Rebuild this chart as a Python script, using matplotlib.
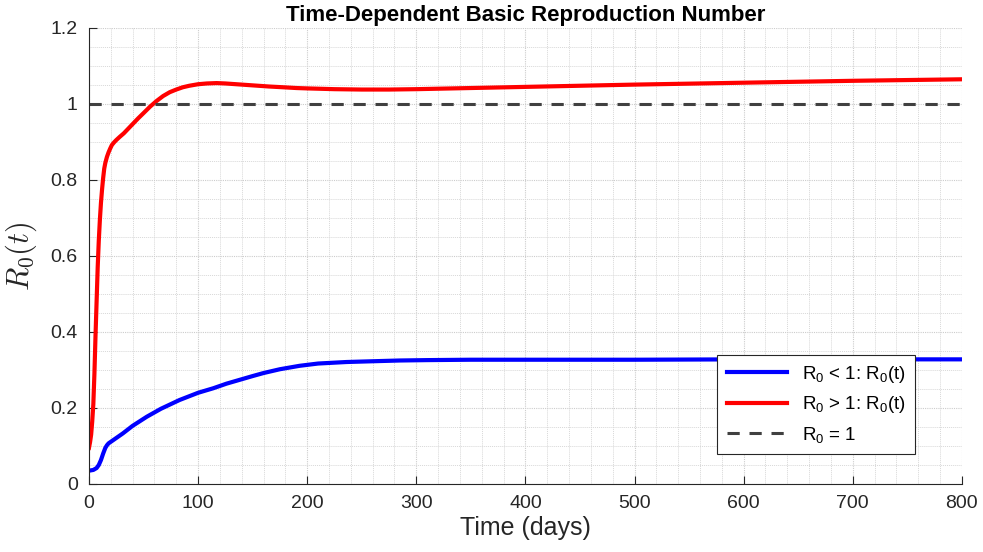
import numpy as np
import matplotlib
matplotlib.use('Agg')
import matplotlib.pyplot as plt
from matplotlib.ticker import MultipleLocator

plt.rcParams['font.family'] = ['Liberation Sans', 'DejaVu Sans']

# values
t_red = [0, 1, 2, 3, 4, 5, 6, 7, 8, 9, 10, 11, 12, 13, 14, 15, 16.5, 18, 19.5, 21, 23,
         25, 28, 32, 36, 40, 45, 50, 56, 62, 68, 74, 80, 86, 92, 100, 108, 117, 125, 135,
         150, 165, 178, 190, 200, 225, 250, 275, 300, 350, 400, 450, 500, 600, 700, 800]
r_red = [0.095, 0.11, 0.13, 0.165, 0.21, 0.29, 0.39, 0.48, 0.57, 0.64, 0.695, 0.74,
         0.775, 0.805, 0.83, 0.845, 0.861, 0.873, 0.883, 0.892, 0.899, 0.905, 0.913,
         0.923, 0.935, 0.947, 0.962, 0.976, 0.993, 1.008, 1.021, 1.031, 1.038, 1.044,
         1.048, 1.052, 1.054, 1.055, 1.054, 1.052, 1.049, 1.046, 1.044, 1.042, 1.041,
         1.039, 1.038, 1.038, 1.039, 1.042, 1.045, 1.048, 1.051, 1.056, 1.061, 1.065]

t_blue = [0, 4, 7, 9, 11, 13, 15, 16.5, 18, 20, 22, 26, 31, 40, 53, 66, 83, 100, 114,
          126, 138, 150, 160, 175, 193, 210, 236, 260, 285, 310, 350, 400, 500, 600, 700, 800]
r_blue = [0.035, 0.037, 0.042, 0.05, 0.063, 0.08, 0.095, 0.102, 0.107, 0.111, 0.115,
          0.123, 0.133, 0.153, 0.177, 0.198, 0.221, 0.24, 0.252, 0.264, 0.274, 0.284,
          0.292, 0.302, 0.311, 0.317, 0.321, 0.323, 0.325, 0.326, 0.327, 0.327, 0.327,
          0.328, 0.328, 0.328]

threshold = 1.0
x_max = 800


def main():
    fig = plt.figure(figsize=(9.83, 5.52), dpi=100)
    ax = fig.add_axes([0.0905, 0.1232, 0.888, 0.8261])

    ax.plot(t_blue, r_blue, color='#0000ff', lw=3, solid_joinstyle='round',
            label=r'R$\mathregular{_0}$ < 1: R$\mathregular{_0}$(t)')
    ax.plot(t_red, r_red, color='#ff0000', lw=3, solid_joinstyle='round',
            label=r'R$\mathregular{_0}$ > 1: R$\mathregular{_0}$(t)')
    ax.plot([0, x_max], [threshold, threshold], color='#404040', lw=2.2,
            dashes=(4, 3.2), label=r'R$\mathregular{_0}$ = 1')

    ax.set_xlim(0, x_max)
    ax.set_ylim(0, 1.2)
    ax.xaxis.set_major_locator(MultipleLocator(100))
    ax.xaxis.set_minor_locator(MultipleLocator(20))
    ax.yaxis.set_major_locator(MultipleLocator(0.2))
    ax.yaxis.set_minor_locator(MultipleLocator(0.05))
    ax.yaxis.set_major_formatter(plt.FuncFormatter(lambda v, p: f'{v:g}'))

    ax.grid(which='major', color='#cccccc', lw=0.8, ls=(0, (1, 1)))
    ax.grid(which='minor', color='#d8d8d8', lw=0.7, ls=(0, (1, 1)))
    ax.set_axisbelow(True)

    for side in ['top', 'right']:
        ax.spines[side].set_visible(False)
    for side in ['left', 'bottom']:
        ax.spines[side].set_color('#262626')
        ax.spines[side].set_linewidth(0.8)
    ax.tick_params(which='major', direction='in', length=6, colors='#262626',
                   labelsize=14, pad=8)
    ax.tick_params(which='minor', length=0)

    ax.set_xlabel('Time (days)', fontsize=18, color='#262626', labelpad=3)
    ax.set_ylabel(r'$R_0(t)$', fontsize=22, color='#262626', math_fontfamily='cm', labelpad=8)
    ax.set_title('Time-Dependent Basic Reproduction Number', fontsize=16,
                 fontweight='bold', pad=5)

    leg = ax.legend(loc='lower right', bbox_to_anchor=(0.957, 0.045), fontsize=13.5,
                    frameon=True, fancybox=False, framealpha=1, edgecolor='#262626',
                    handlelength=3.2, borderpad=0.5, labelspacing=0.5)
    leg.get_frame().set_linewidth(0.8)

    fig.savefig('out.png', dpi=100)


if __name__ == '__main__':
    main()
